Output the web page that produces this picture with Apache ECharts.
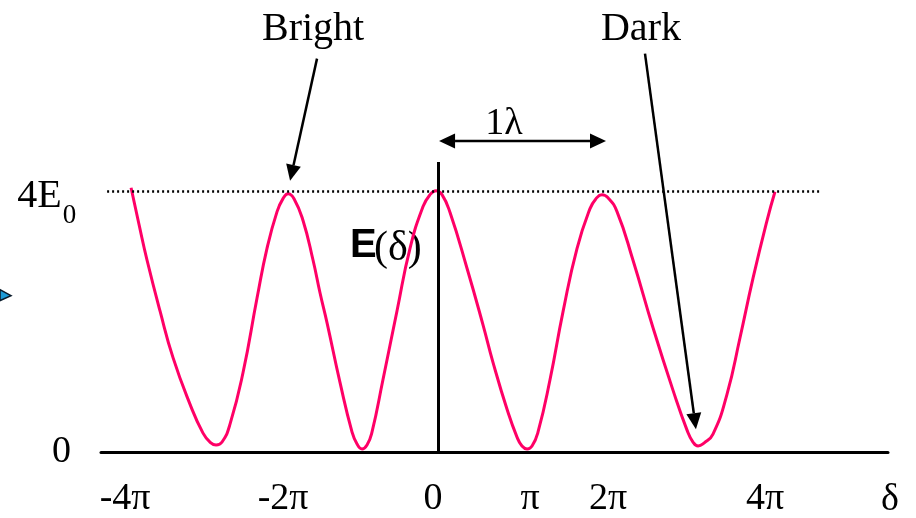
<!DOCTYPE html>
<html>
<head>
<meta charset="utf-8">
<script src="https://cdn.jsdelivr.net/npm/echarts@6/dist/echarts.min.js"></script>
<style>
  html, body { margin: 0; padding: 0; background: #ffffff; }
  #chart { width: 916px; height: 518px; }
</style>
</head>
<body>
<div id="chart"></div>
<script>
// Phase difference δ (in units of π) and field amplitude E(δ) (in units of E0)
const deltaPi = [
  -3.806, -3.707, -3.607, -3.446, -3.284, -3.072, -2.911, -2.824, -2.749, -2.674,
  -2.575, -2.413, -2.239, -2.115, -1.990, -1.916, -1.853, -1.779,
  -1.667, -1.542, -1.455, -1.368, -1.207, -1.057, -0.995, -0.933, -0.871,
  -0.809, -0.672, -0.498, -0.336, -0.174, -0.087, -0.012, 0.062,
  0.162, 0.373, 0.572, 0.697, 0.871, 0.995, 1.057, 1.120, 1.182,
  1.256, 1.406, 1.567, 1.742, 1.903, 1.978, 2.052, 2.127,
  2.239, 2.438, 2.687, 2.936, 3.110, 3.184, 3.247, 3.321,
  3.433, 3.607, 3.769, 3.931, 4.105, 4.204
];
const fieldE0 = [
  4.057, 3.493, 2.944, 2.166, 1.449, 0.732, 0.290, 0.153, 0.107, 0.153,
  0.427, 1.220, 2.364, 3.127, 3.691, 3.890, 3.966, 3.890,
  3.554, 2.944, 2.441, 1.983, 1.068, 0.305, 0.122, 0.046, 0.107,
  0.305, 1.113, 2.166, 3.127, 3.768, 3.951, 4.012, 3.951,
  3.676, 2.822, 1.952, 1.373, 0.656, 0.229, 0.092, 0.046, 0.092,
  0.305, 1.113, 2.151, 3.127, 3.737, 3.890, 3.951, 3.905,
  3.691, 2.944, 1.907, 0.946, 0.336, 0.153, 0.092, 0.137,
  0.275, 0.885, 1.754, 2.669, 3.554, 3.996
];

// Axis tick labels along δ and E
const xTickValues = [-3.88, -1.915, -0.05, 1.157, 2.127, 4.08];
const xTickLabels = ['-4π', '-2π', '0', 'π', '2π', '4π'];
const yTickValues = [0];
const yTickLabels = ['0'];

// Reference levels
const peakLevel = 4;      // 4E0
const zeroDelta = 0.012;  // the E(δ) axis at δ = 0

const SERIF = '"Liberation Serif", "Times New Roman", serif';
const SANS = '"Liberation Sans", Arial, sans-serif';

const chart = echarts.init(document.getElementById('chart'), null, { renderer: 'canvas' });

const X_MIN = -4.18, X_MAX = 5.61, Y_MIN = 0, Y_MAX = 6.94;

chart.setOption({
  animation: false,
  backgroundColor: '#ffffff',
  grid: { left: 101, right: 28, top: 0, bottom: 63, containLabel: false },
  xAxis: {
    type: 'value', min: X_MIN, max: X_MAX,
    axisLine: { show: true, onZero: false, lineStyle: { color: '#000', width: 3 } },
    axisTick: { show: false },
    splitLine: { show: false },
    axisLabel: {
      customValues: xTickValues,
      formatter: (v, i) => xTickLabels[xTickValues.indexOf(v)] ?? xTickLabels[i],
      fontFamily: SERIF, fontSize: 38, color: '#000', margin: 28,
      showMinLabel: true, showMaxLabel: true
    }
  },
  yAxis: {
    type: 'value', min: Y_MIN, max: Y_MAX,
    axisLine: { show: false },
    axisTick: { show: false },
    splitLine: { show: false },
    axisLabel: {
      customValues: yTickValues,
      margin: 30,
      formatter: (v) => yTickLabels[yTickValues.indexOf(v)],
      fontFamily: SERIF, fontSize: 38, color: '#000'
    }
  },
  series: [{
    type: 'line',
    data: deltaPi.map((d, i) => [d, fieldE0[i]]),
    showSymbol: false,
    smooth: 0.5,
    clip: false,
    lineStyle: { color: '#ff0066', width: 3 },
    z: 3,
    markLine: {
      silent: true,
      symbol: ['none', 'none'],
      label: { show: false },
      data: [
        [
          { coord: [-4.104, peakLevel], lineStyle: { type: [2, 3], width: 2.5, color: '#000' } },
          { coord: [4.764, peakLevel] }
        ],
        [
          { coord: [zeroDelta, 0], lineStyle: { type: 'solid', width: 3, color: '#000' } },
          { coord: [zeroDelta, 4.454] }
        ]
      ]
    }
  }]
});

// Annotation anchors, given in the chart's own units (δ/π, E/E0)
const px = (x, y) => chart.convertToPixel({ gridIndex: 0 }, [x, y]);

function arrow(from, tip, both) {
  const a = px(from[0], from[1]);
  const b = px(tip[0], tip[1]);
  const L = 16, W = 15;
  const dx = b[0] - a[0], dy = b[1] - a[1];
  const len = Math.hypot(dx, dy);
  const ux = dx / len, uy = dy / len, nx = -uy, ny = ux;
  const head = (p, sx, sy) => ({
    type: 'polygon', silent: true,
    shape: { points: [
      [p[0], p[1]],
      [p[0] - sx * L + nx * W / 2, p[1] - sy * L + ny * W / 2],
      [p[0] - sx * L - nx * W / 2, p[1] - sy * L - ny * W / 2]
    ] },
    style: { fill: '#000' }
  });
  const start = both ? [a[0] + ux * L, a[1] + uy * L] : a;
  const els = [
    { type: 'line', silent: true,
      shape: { x1: start[0], y1: start[1], x2: b[0] - ux * L, y2: b[1] - uy * L },
      style: { stroke: '#000', lineWidth: 2.5 } },
    head(b, ux, uy)
  ];
  if (both) els.push(head(a, -ux, -uy));
  return els;
}

function label(text, at, font, align) {
  const p = px(at[0], at[1]);
  return {
    type: 'text', silent: true, x: p[0], y: p[1],
    style: { text, font, fill: '#000', align: align || 'center', verticalAlign: 'middle' }
  };
}

const brightText = [-1.542, 6.483];
const brightFrom = [-1.493, 6.04];
const brightTip = [-1.828, 4.164];
const darkText = [2.537, 6.483];
const darkFrom = [2.587, 6.117];
const darkTip = [3.221, 0.351];
const lambdaText = [0.833, 5.03];
const lambdaLeft = [0.025, 4.774];
const lambdaRight = [2.102, 4.774];
const fieldLabelE = [-1.082, 3.17];
const fieldLabelArg = [-0.784, 3.12];
const deltaLabel = [5.634, -0.73];
const peakLabel = [-4.67, 3.93];
const peakSub = [-4.655, 3.62];

const side = px(X_MIN, 2.4);

chart.setOption({
  graphic: [
    label('Bright', brightText, '40px ' + SERIF),
    ...arrow(brightFrom, brightTip, false),
    label('Dark', darkText, '40px ' + SERIF),
    ...arrow(darkFrom, darkTip, false),
    label('1λ', lambdaText, '38px ' + SERIF),
    ...arrow(lambdaLeft, lambdaRight, true),
    label('E', fieldLabelE, 'bold 40px ' + SANS, 'left'),
    label('(δ)', fieldLabelArg, '42px ' + SERIF, 'left'),
    label('δ', deltaLabel, '38px ' + SERIF),
    label('4E', peakLabel, '40px ' + SERIF, 'right'),
    label('0', peakSub, '27px ' + SERIF, 'left'),
    {
      type: 'polygon', silent: true,
      shape: { points: [[side[0] - 101, side[1] - 6], [side[0] - 90, side[1]], [side[0] - 101, side[1] + 5]] },
      style: { fill: '#1e9ad6', stroke: '#0a1a2a', lineWidth: 1.5 }
    }
  ]
});
</script>
</body>
</html>
